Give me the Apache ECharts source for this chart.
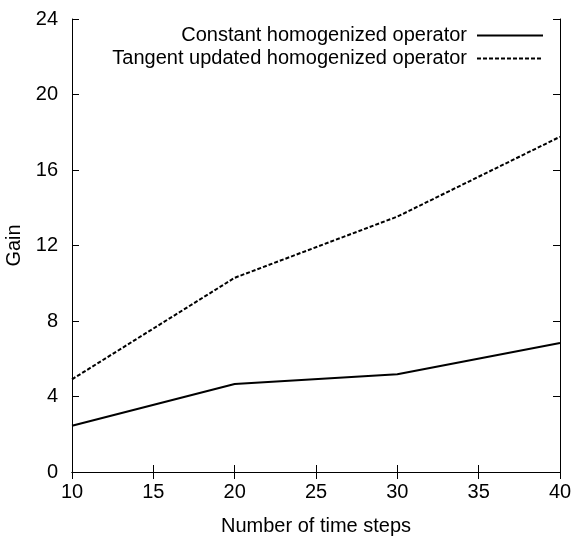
<!DOCTYPE html>
<html>
<head>
<meta charset="utf-8">
<script src="https://cdn.jsdelivr.net/npm/echarts@6/dist/echarts.min.js"></script>
<style>html,body{margin:0;padding:0;background:#fff}#c{width:576px;height:540px}</style>
</head>
<body>
<div id="c"></div>
<script>
const steps = [10, 20, 30, 40];
const constantGain = [2.45, 4.66, 5.18, 6.83];
const tangentGain = [4.91, 10.29, 13.53, 17.76];
const xTicks = [10, 15, 20, 25, 30, 35, 40];
const yTicks = [0, 4, 8, 12, 16, 20, 24];
const seriesNames = ['Constant homogenized operator', 'Tangent updated homogenized operator'];

const font = 'Liberation Sans, Arial, Helvetica, sans-serif';
const fs = 20;
const chart = echarts.init(document.getElementById('c'), null, {renderer: 'canvas'});
const axisLine = {show: true, lineStyle: {color: '#000', width: 1}};
const tick = {show: true, inside: true, length: 7, lineStyle: {color: '#000'}};
chart.setOption({
  animation: false,
  backgroundColor: '#fff',
  grid: {left: 72, right: 16, top: 19, bottom: 68, outerBoundsMode: 'none', containLabel: false},
  legend: {
    data: seriesNames,
    orient: 'vertical',
    right: 27,
    top: 19,
    align: 'right',
    itemWidth: 66,
    itemHeight: 14,
    itemGap: 0,
    itemStyle: {opacity: 0},
    textStyle: {fontFamily: font, fontSize: fs, lineHeight: 23, color: '#000', padding: [0, 5, 0, 0]}
  },
  xAxis: [{
    type: 'value', min: xTicks[0], max: xTicks[xTicks.length - 1], interval: xTicks[1] - xTicks[0],
    name: 'Number of time steps', nameLocation: 'middle', nameGap: 44,
    nameTextStyle: {fontFamily: font, fontSize: fs, color: '#000'},
    axisLine, axisTick: tick, splitLine: {show: false},
    axisLabel: {fontFamily: font, fontSize: fs, color: '#000', margin: 10}
  }, {
    type: 'value', position: 'top', min: xTicks[0], max: xTicks[xTicks.length - 1], interval: xTicks[1] - xTicks[0],
    axisLine, axisTick: tick, splitLine: {show: false}, axisLabel: {show: false}
  }],
  yAxis: [{
    type: 'value', min: yTicks[0], max: yTicks[yTicks.length - 1], interval: yTicks[1] - yTicks[0],
    name: 'Gain', nameLocation: 'middle', nameGap: 40,
    nameTextStyle: {fontFamily: font, fontSize: fs, color: '#000'},
    axisLine, axisTick: tick, splitLine: {show: false},
    axisLabel: {fontFamily: font, fontSize: fs, color: '#000', margin: 14}
  }, {
    type: 'value', position: 'right', min: yTicks[0], max: yTicks[yTicks.length - 1], interval: yTicks[1] - yTicks[0],
    axisLine, axisTick: tick, splitLine: {show: false}, axisLabel: {show: false}
  }],
  series: [{
    name: seriesNames[0], type: 'line', symbol: 'none',
    data: steps.map((s, i) => [s, constantGain[i]]),
    lineStyle: {color: '#000', width: 2, type: 'solid'},
    itemStyle: {color: '#000'}
  }, {
    name: seriesNames[1], type: 'line', symbol: 'none',
    data: steps.map((s, i) => [s, tangentGain[i]]),
    lineStyle: {color: '#000', width: 2, type: [4, 2]},
    itemStyle: {color: '#000'}
  }]
});
</script>
</body>
</html>
